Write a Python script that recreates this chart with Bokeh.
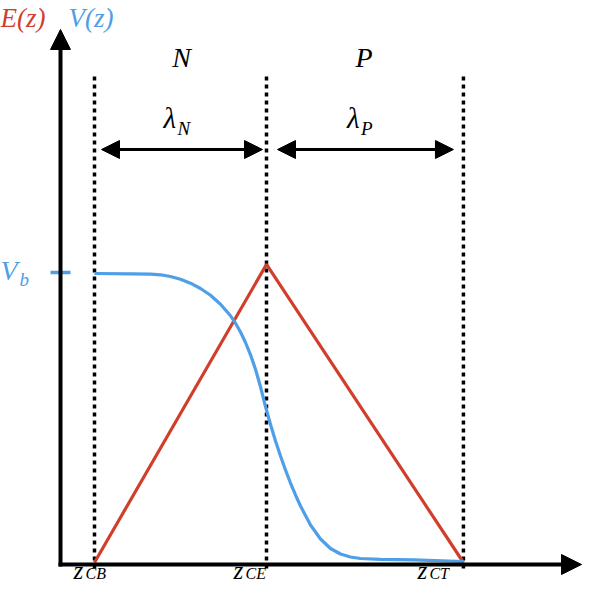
import numpy as np
from bokeh.plotting import figure
from bokeh.models import Range1d, Arrow, NormalHead
from bokeh.core.properties import value
from bokeh.embed import file_html
from bokeh.resources import INLINE

# ---------------- data ----------------
z_names = ["CB", "CE", "CT"]
z_pos = [0.0, 100.0, 214.5]          # z_CB, z_CE, z_CT
region_labels = ["N", "P"]
lambda_subs = ["N", "P"]
E_z = [0.0, 100.0, 214.5]
E_val = [0.0, 1.028, 0.0]
V_z = [0.0, 20.93, 32.56, 38.37, 44.19, 50.0, 55.81, 61.63, 67.44, 73.26, 79.07, 81.98,
       84.88, 87.79, 90.70, 93.60, 96.51, 99.42, 102.33, 105.23, 108.14, 111.05, 113.95,
       116.86, 119.77, 125.58, 131.40, 137.21, 143.02, 148.84, 154.65, 166.28, 185.47, 214.53]
V_val = [0.9966, 0.9955, 0.9941, 0.9921, 0.9862, 0.9769, 0.9631, 0.9448, 0.9217, 0.8907,
         0.8507, 0.8252, 0.7948, 0.7586, 0.7162, 0.6662, 0.6059, 0.5379, 0.4759, 0.4190,
         0.3672, 0.3190, 0.2741, 0.2328, 0.1948, 0.1293, 0.0810, 0.0483, 0.0293, 0.0190,
         0.0138, 0.0110, 0.0090, 0.0034]
Vb = 1.0

RED = "#d13f2c"
BLUE = "#4f9ee8"
FONT = value("Liberation Serif")

# ---------------- layout ----------------
W, H = 582, 584
SX, SY = 1.72, 290.0           # px per unit
PX0, PY0 = 94.0, 562.0         # canvas px of (z=0, v=0)
TEXT_DY = 8                    # rendered text sits lower than its baseline; compensate

def zx(px):
    return (px - PX0) / SX

def vy(py):
    return (PY0 - py) / SY

def ty(py):
    return vy(py - TEXT_DY)

p = figure(width=W, height=H, x_range=Range1d(zx(0), zx(W)), y_range=Range1d(vy(H), vy(0)),
           output_backend="svg", toolbar_location=None,
           x_axis_type=None, y_axis_type=None, min_border=0)
p.outline_line_color = None
p.background_fill_color = "white"
p.border_fill_color = "white"
p.grid.visible = False

# dotted vertical lines
p.segment(x0=z_pos, y0=[vy(568)] * 3, x1=z_pos, y1=[vy(72)] * 3,
          line_color="black", line_width=3.5, line_dash="4 4", line_cap="butt")

# axes with arrow heads
ax_x = zx(60)
ax_y = vy(564)
p.add_layout(Arrow(end=NormalHead(size=20, fill_color="black", line_color="black", line_width=1),
                   x_start=zx(58), y_start=ax_y, x_end=zx(581), y_end=ax_y,
                   line_color="black", line_width=4))
p.add_layout(Arrow(end=NormalHead(size=20, fill_color="black", line_color="black", line_width=1),
                   x_start=ax_x, y_start=vy(566), x_end=ax_x, y_end=vy(29),
                   line_color="black", line_width=4))

# lambda double arrows
ly = vy(149)
starts_gap = [7, 11]
ends_gap = [4, 10]
pairs = [(z_pos[0], z_pos[1]), (z_pos[1], z_pos[2])]
for (a, b), g0, g1 in zip(pairs, starts_gap, ends_gap):
    p.add_layout(Arrow(start=NormalHead(size=18, fill_color="black", line_color="black", line_width=1),
                       end=NormalHead(size=18, fill_color="black", line_color="black", line_width=1),
                       x_start=a + g0 / SX, y_start=ly, x_end=b - g1 / SX, y_end=ly,
                       line_color="black", line_width=3))

# curves
p.line(E_z, E_val, line_color=RED, line_width=3.2)
p.line(V_z, V_val, line_color=BLUE, line_width=3.2, line_join="round")

# Vb tick
p.segment(x0=[zx(50)], y0=[Vb], x1=[zx(70)], y1=[Vb], line_color=BLUE, line_width=3.5)

def txt(xs, ys, texts, color="black", size="28px", align="left"):
    p.text(x=xs, y=ys, text=texts, text_font=FONT, text_font_style="italic",
           text_font_size=size, text_color=color, text_align=align,
           text_baseline="alphabetic")

# axis titles
txt([zx(0)], [ty(25)], ["E(z)"], color=RED, size="27px")
txt([zx(68)], [ty(25)], ["V(z)"], color=BLUE, size="27px")

# region labels
mid_N = (z_pos[0] + z_pos[1]) / 2
mid_P = (z_pos[1] + z_pos[2]) / 2
txt([mid_N + 1 / SX, mid_P - 1 / SX], [ty(65)] * 2, region_labels, align="center")

# lambda labels
txt([mid_N - 17 / SX, mid_P - 18 / SX], [ty(125)] * 2, ["λ", "λ"], size="29px")
txt([mid_N - 3 / SX, mid_P - 4 / SX], [ty(136)] * 2, lambda_subs, size="19px")

# Vb label
txt([zx(0)], [ty(278)], ["V"], color=BLUE)
txt([zx(19)], [ty(287)], ["b"], color=BLUE, size="19px")

# z labels
zl_off = [-21, -33, -46]
txt([z + o / SX for z, o in zip(z_pos, zl_off)], [ty(578)] * 3, ["z"] * 3, size="25px")
txt([z + (o + 12) / SX for z, o in zip(z_pos, zl_off)], [ty(581)] * 3, z_names, size="16px")

open("out.html", "w").write(file_html(p, INLINE))
